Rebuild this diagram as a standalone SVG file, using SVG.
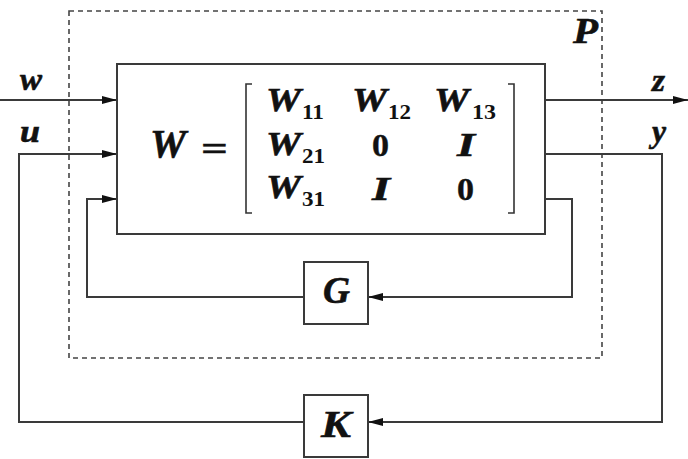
<svg xmlns="http://www.w3.org/2000/svg" width="688" height="459" viewBox="0 0 688 459">
<style>
.ln{fill:none;stroke:#3a3a3a;stroke-width:2}
.box{fill:#fff;stroke:#3a3a3a;stroke-width:2}
.dash{fill:none;stroke:#444;stroke-width:1.6;stroke-dasharray:5 4}
.t{font-family:"Liberation Serif","Times New Roman",serif;font-weight:bold;font-style:italic;fill:#111;stroke:#111;stroke-width:0.6}
.n{font-family:"Liberation Serif","Times New Roman",serif;font-weight:bold;fill:#111;stroke:#111;stroke-width:0.4}
.sub{font-family:"Liberation Serif","Times New Roman",serif;font-weight:bold;font-size:22px;fill:#111}
.br{fill:none;stroke:#333;stroke-width:1.6}
</style>
<defs>
<marker id="ah" markerUnits="userSpaceOnUse" markerWidth="16" markerHeight="9" refX="15" refY="4" orient="auto">
<path d="M0,0 L15,4 L0,8 z" fill="#111"/>
</marker>
</defs>
<rect width="688" height="459" fill="#fff"/>
<g id="P">
<rect class="dash" x="69" y="11" width="533" height="347"/>
<text class="t" x="573" y="43" font-size="36" textLength="25" lengthAdjust="spacingAndGlyphs">P</text>
</g>
<g id="connectors">
<path class="ln" d="M0,100 H117" marker-end="url(#ah)"/>
<path class="ln" d="M304,422 H19 V154 H117" marker-end="url(#ah)"/>
<path class="ln" d="M304,297 H87 V199 H117" marker-end="url(#ah)"/>
<path class="ln" d="M545,100 H688" marker-end="url(#ah)"/>
<path class="ln" d="M545,154 H662 V422 H368" marker-end="url(#ah)"/>
<path class="ln" d="M545,199 H572 V297 H368" marker-end="url(#ah)"/>
<text class="t" x="20" y="90" font-size="31" textLength="22" lengthAdjust="spacingAndGlyphs">w</text>
<text class="t" x="20" y="142" font-size="31" textLength="20" lengthAdjust="spacingAndGlyphs">u</text>
<text class="t" x="652" y="91" font-size="31" textLength="13" lengthAdjust="spacingAndGlyphs">z</text>
<text class="t" x="652" y="142" font-size="31" textLength="14" lengthAdjust="spacingAndGlyphs">y</text>
</g>
<g id="W">
<rect class="box" x="117" y="64" width="428" height="170"/>
<text class="t" x="150" y="157" font-size="40" textLength="36" lengthAdjust="spacingAndGlyphs">W</text>
<text class="n" x="201" y="160" font-size="34" textLength="27" lengthAdjust="spacingAndGlyphs">=</text>
<path class="br" d="M252,84 H246 V213 H252"/>
<path class="br" d="M508,84 H514 V213 H508"/>
<text class="t" x="266" y="111" font-size="33" textLength="35" lengthAdjust="spacingAndGlyphs">W</text>
<text class="sub" x="302" y="119" textLength="22" lengthAdjust="spacingAndGlyphs">11</text>
<text class="t" x="352" y="111" font-size="33" textLength="35" lengthAdjust="spacingAndGlyphs">W</text>
<text class="sub" x="388" y="119" textLength="23" lengthAdjust="spacingAndGlyphs">12</text>
<text class="t" x="434" y="111" font-size="33" textLength="35" lengthAdjust="spacingAndGlyphs">W</text>
<text class="sub" x="472" y="119" textLength="24" lengthAdjust="spacingAndGlyphs">13</text>
<text class="t" x="266" y="155" font-size="33" textLength="35" lengthAdjust="spacingAndGlyphs">W</text>
<text class="sub" x="302" y="163" textLength="23" lengthAdjust="spacingAndGlyphs">21</text>
<text class="n" x="372" y="156" font-size="31" textLength="17" lengthAdjust="spacingAndGlyphs">0</text>
<text class="t" x="457" y="156" font-size="33" textLength="18" lengthAdjust="spacingAndGlyphs">I</text>
<text class="t" x="266" y="198" font-size="33" textLength="35" lengthAdjust="spacingAndGlyphs">W</text>
<text class="sub" x="302" y="206" textLength="23" lengthAdjust="spacingAndGlyphs">31</text>
<text class="t" x="372" y="200" font-size="33" textLength="18" lengthAdjust="spacingAndGlyphs">I</text>
<text class="n" x="457" y="200" font-size="31" textLength="17" lengthAdjust="spacingAndGlyphs">0</text>
</g>
<g id="G">
<rect class="box" x="304" y="262" width="64" height="62"/>
<text class="t" x="323" y="303" font-size="38" textLength="27" lengthAdjust="spacingAndGlyphs">G</text>
</g>
<g id="K">
<rect class="box" x="304" y="395" width="64" height="62"/>
<text class="t" x="321" y="437" font-size="38" textLength="30" lengthAdjust="spacingAndGlyphs">K</text>
</g>
</svg>
